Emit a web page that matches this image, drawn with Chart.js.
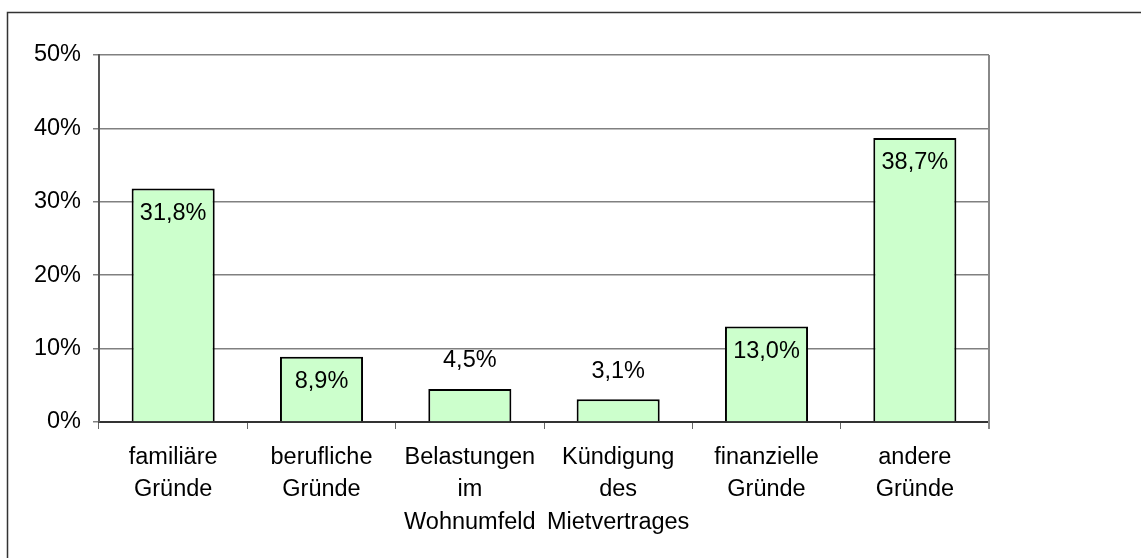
<!DOCTYPE html>
<html>
<head>
<meta charset="utf-8">
<script src="https://cdn.jsdelivr.net/npm/chart.js@4/dist/chart.umd.min.js"></script>
<style>
  body { margin: 0; background: #fff; }
  canvas { display: block; }
</style>
</head>
<body>
<canvas id="myChart" width="1141" height="558"></canvas>
<script>
const labels = [
  ['familiäre', 'Gründe'],
  ['berufliche', 'Gründe'],
  ['Belastungen', 'im', 'Wohnumfeld'],
  ['Kündigung', 'des', 'Mietvertrages'],
  ['finanzielle', 'Gründe'],
  ['andere', 'Gründe'],
];

const werte = [31.8, 8.9, 4.5, 3.1, 13.0, 38.7];

const yTicks = [0, 10, 20, 30, 40, 50];

const schrift = "'Liberation Sans', Arial, sans-serif";

// Rahmen oben/links und rechter Rand der Zeichenfläche
const rahmen = {
  id: 'rahmen',
  beforeDraw(chart) {
    const ctx = chart.ctx;
    ctx.save();
    ctx.fillStyle = '#fff';
    ctx.fillRect(0, 0, chart.width, chart.height);
    ctx.strokeStyle = '#333';
    ctx.lineWidth = 1.5;
    ctx.beginPath();
    ctx.moveTo(7.5, chart.height);
    ctx.lineTo(7.5, 12.5);
    ctx.lineTo(chart.width, 12.5);
    ctx.stroke();
    ctx.restore();
  },
  afterDraw(chart) {
    const a = chart.chartArea;
    const ctx = chart.ctx;
    ctx.save();
    ctx.strokeStyle = '#888';
    ctx.lineWidth = 2;
    ctx.beginPath();
    ctx.moveTo(a.right, a.top);
    ctx.lineTo(a.right, a.bottom + 7);
    ctx.stroke();
    ctx.restore();
  }
};

// Werte an den Balken
const beschriftung = {
  id: 'beschriftung',
  afterDatasetsDraw(chart) {
    const ctx = chart.ctx;
    const meta = chart.getDatasetMeta(0);
    ctx.save();
    ctx.font = '23.5px ' + schrift;
    ctx.fillStyle = '#000';
    ctx.textAlign = 'center';
    ctx.textBaseline = 'middle';
    meta.data.forEach(function(bar, i) {
      const v = werte[i];
      const txt = v.toFixed(1).replace('.', ',') + '%';
      const y = v > 6 ? bar.y + 25 : bar.y - 28;
      ctx.fillText(txt, bar.x, y);
    });
    ctx.restore();
  }
};

const data = {
  labels: labels,
  datasets: [{
    data: werte,
    backgroundColor: '#ccffcc',
    borderColor: '#000',
    borderWidth: 2,
    barPercentage: 0.56,
    categoryPercentage: 1.0,
  }]
};

const config = {
  type: 'bar',
  data: data,
  options: {
    responsive: false,
    devicePixelRatio: 1,
    animation: false,
    layout: { padding: { top: 55, right: 152, left: 0, bottom: 0 } },
    plugins: {
      legend: { display: false },
      tooltip: { enabled: false }
    },
    scales: {
      x: {
        grid: {
          display: true,
          offset: true,
          drawOnChartArea: false,
          tickLength: 7,
          color: '#666',
          lineWidth: 1
        },
        border: { color: '#333', width: 2 },
        ticks: {
          color: '#000',
          padding: 12,
          maxRotation: 0,
          autoSkip: false,
          font: { family: schrift, size: 23.5, lineHeight: 1.38 }
        },
        afterFit(scale) { scale.height = 136; }
      },
      y: {
        min: 0,
        max: 50,
        afterBuildTicks(scale) {
          scale.ticks = yTicks.map(function(v) { return { value: v }; });
        },
        grid: {
          color: '#808080',
          lineWidth: 1.5,
          tickLength: 6
        },
        border: { color: '#555', width: 2 },
        ticks: {
          color: '#000',
          padding: 12,
          font: { family: schrift, size: 23.5 },
          callback: function(v) { return v + '%'; }
        },
        afterFit(scale) { scale.width = 99; }
      }
    }
  },
  plugins: [rahmen, beschriftung]
};

var myChart = new Chart(
  document.getElementById('myChart'),
  config
);
</script>
</body>
</html>
